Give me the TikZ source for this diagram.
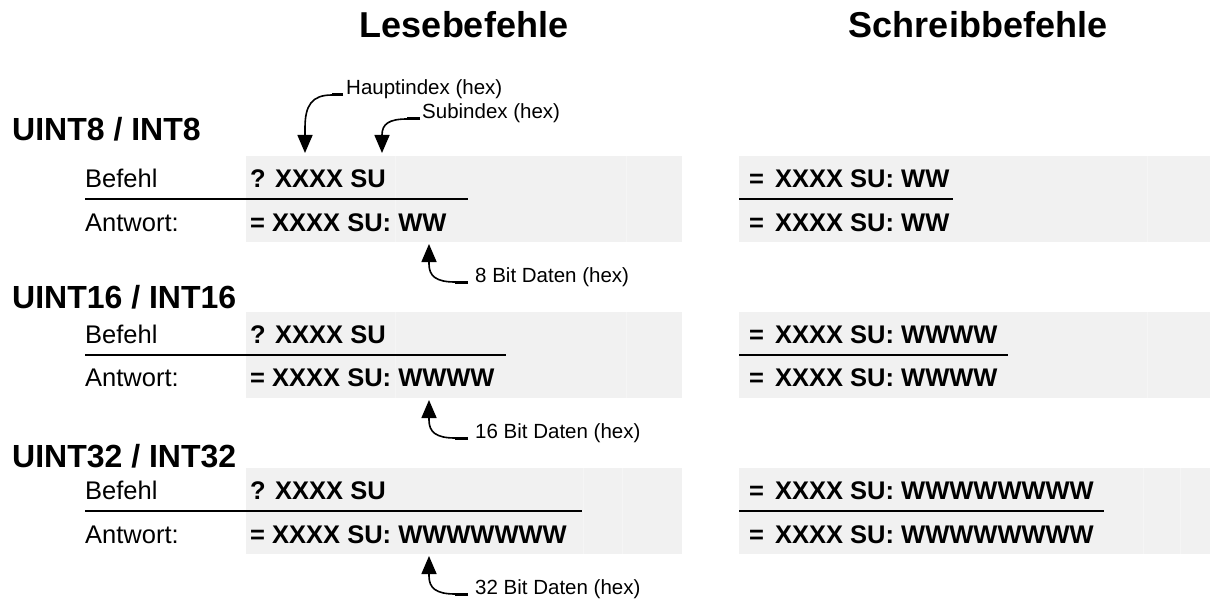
\documentclass[tikz,border=0pt]{standalone}
\usepackage{fontspec}
\setmainfont{Liberation Sans}
\usetikzlibrary{arrows.meta}
\definecolor{cellgray}{RGB}{241,241,241}
\definecolor{cellline}{RGB}{245,245,245}

\begin{document}
\begin{tikzpicture}[x=1pt, y=-1pt,
	title/.style={font=\fontsize{36}{40}\selectfont\bfseries, anchor=base},
	typename/.style={font=\fontsize{32}{36}\selectfont\bfseries, anchor=base west, inner sep=0},
	rowname/.style={font=\fontsize{25.5}{30}\selectfont, anchor=base west, inner sep=0},
	data/.style={font=\fontsize{25.5}{30}\selectfont\bfseries, anchor=base west, inner sep=0},
	note/.style={font=\fontsize{20.5}{24}\selectfont, anchor=base west, inner sep=0},
	rule/.style={line width=2.3pt},
	stub/.style={line width=3pt},
	leader/.style={line width=1.6pt, -{Triangle[width=15pt,length=18pt]}},
	cellrule/.style={cellline, line width=1pt}]
			\useasboundingbox (0,0) rectangle (1210,599);
			\fill[cellgray] (246,156) rectangle (682,242);
			\fill[cellgray] (739,156) rectangle (1210,242);
			\fill[cellgray] (246,312) rectangle (682,398);
			\fill[cellgray] (739,312) rectangle (1210,398);
			\fill[cellgray] (246,468) rectangle (682,554);
			\fill[cellgray] (739,468) rectangle (1210,554);
			\draw[cellrule] (395,156) -- (395,242);
			\draw[cellrule] (626,156) -- (626,242);
			\draw[cellrule] (1147,156) -- (1147,242);
			\draw[cellrule] (395,312) -- (395,398);
			\draw[cellrule] (626,312) -- (626,398);
			\draw[cellrule] (1147,312) -- (1147,398);
			\draw[cellrule] (583,468) -- (583,554);
			\draw[cellrule] (622,468) -- (622,554);
			\draw[cellrule] (1143,468) -- (1143,554);
			\draw[cellrule] (1180,468) -- (1180,554);
			\node[title] (lese) at (464,38) {Lesebefehle};
			\node[title] (schreib) at (978,38) {Schreibbefehle};
			\node[typename] (t8) at (12,141) {UINT8 / INT8};
			\node[rowname] (befehl8) at (85,187) {Befehl};
			\node[rowname] (antwort8) at (85,231) {Antwort:};
			\node[data] (lb8) at (250,187) {? XXXX SU};
			\node[data] (la8) at (250,231) {= XXXX SU: WW};
			\node[data] (sb8) at (749,187) {=\hspace{11pt}XXXX SU: WW};
			\node[data] (sa8) at (749,231) {=\hspace{11pt}XXXX SU: WW};
			\draw[rule] (85,199) -- (468,199);
			\draw[rule] (739,199) -- (953,199);
			\node[typename] (t16) at (12,308) {UINT16 / INT16};
			\node[rowname] (befehl16) at (85,343) {Befehl};
			\node[rowname] (antwort16) at (85,386) {Antwort:};
			\node[data] (lb16) at (250,343) {? XXXX SU};
			\node[data] (la16) at (250,386) {= XXXX SU: WWWW};
			\node[data] (sb16) at (749,343) {=\hspace{11pt}XXXX SU: WWWW};
			\node[data] (sa16) at (749,386) {=\hspace{11pt}XXXX SU: WWWW};
			\draw[rule] (85,355) -- (506,355);
			\draw[rule] (739,355) -- (1008,355);
			\node[typename] (t32) at (12,467) {UINT32 / INT32};
			\node[rowname] (befehl32) at (85,499) {Befehl};
			\node[rowname] (antwort32) at (85,543) {Antwort:};
			\node[data] (lb32) at (250,499) {? XXXX SU};
			\node[data] (la32) at (250,543) {= XXXX SU: WWWWWWW};
			\node[data] (sb32) at (749,499) {=\hspace{11pt}XXXX SU: WWWWWWWW};
			\node[data] (sa32) at (749,543) {=\hspace{11pt}XXXX SU: WWWWWWWW};
			\draw[rule] (85,511) -- (582,511);
			\draw[rule] (739,511) -- (1104,511);
			\node[note] (haupt) at (346,95) {Hauptindex (hex)};
			\node[note] (sub) at (422,119) {Subindex (hex)};
			\coordinate (hauptTip) at (305,153);
			\coordinate (subTip) at (382,153);
			\draw[stub] ([xshift=-3pt]haupt.base west) -- ++(-11,0) coordinate (hauptEnd);
			\draw[leader] (hauptEnd) .. controls (312,95) and (305,105) .. (305,128) -- (hauptTip);
			\draw[stub] ([xshift=-2pt]sub.base west) -- ++(-13,0) coordinate (subEnd);
			\draw[leader] (subEnd) .. controls (389,119) and (382,124) .. (382,135) -- (subTip);
			\node[note] (bit8) at (475,282) {8 Bit Daten (hex)};
			\coordinate (bit8Tip) at (429,244);
			\draw[stub] ([xshift=-7pt]bit8.base west) -- ++(-13,0) coordinate (bit8End);
			\draw[leader] (bit8End) .. controls (436,282) and (429,276) .. (429,264) -- (bit8Tip);
			\node[note] (bit16) at (475,438) {16 Bit Daten (hex)};
			\coordinate (bit16Tip) at (429,400);
			\draw[stub] ([xshift=-7pt]bit16.base west) -- ++(-13,0) coordinate (bit16End);
			\draw[leader] (bit16End) .. controls (436,438) and (429,432) .. (429,420) -- (bit16Tip);
			\node[note] (bit32) at (475,594) {32 Bit Daten (hex)};
			\coordinate (bit32Tip) at (429,556);
			\draw[stub] ([xshift=-7pt]bit32.base west) -- ++(-13,0) coordinate (bit32End);
			\draw[leader] (bit32End) .. controls (436,594) and (429,588) .. (429,576) -- (bit32Tip);
\end{tikzpicture}
\end{document}
